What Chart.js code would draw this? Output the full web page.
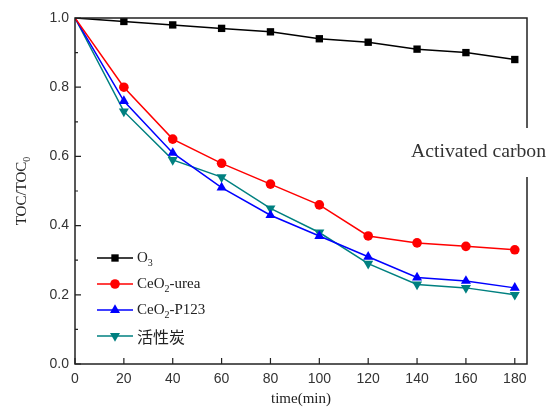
<!DOCTYPE html>
<html><head><meta charset="utf-8">
<script src="https://cdn.jsdelivr.net/npm/chart.js@4.4.1/dist/chart.umd.min.js"></script>
<style>html,body{margin:0;padding:0;background:#fff}#wrap{width:548px;height:410px}</style>
</head><body><div id="wrap"><canvas id="c" width="548" height="410"></canvas></div>
<script>
const times = [0,20,40,60,80,100,120,140,160,180];
const o3 = [1.0,0.99,0.98,0.97,0.96,0.94,0.93,0.91,0.90,0.88];
const ceo2Urea = [1.0,0.80,0.65,0.58,0.52,0.46,0.37,0.35,0.34,0.33];
const ceo2P123 = [1.0,0.76,0.61,0.51,0.43,0.37,0.31,0.25,0.24,0.22];
const activatedC = [1.0,0.73,0.59,0.54,0.45,0.38,0.29,0.23,0.22,0.20];
const seriesNames = [["O","3",""],["CeO","2","-urea"],["CeO","2","-P123"],["活性炭","",""]];
const xTicks = [0,20,40,60,80,100,120,140,160,180];
const yTicks = [0,0.2,0.4,0.6,0.8,1.0];
const yMinor = [0.1,0.3,0.5,0.7,0.9];

function pts(arr){return times.map((t,i)=>({x:t,y:arr[i]}));}
function radii(r){return times.map((t,i)=>i===0?0:r);}
const serif = '"Liberation Serif","Times New Roman",serif';
const sans = '"Liberation Sans",Arial,sans-serif';

const ds = [
 {data:pts(o3),borderColor:'#000',backgroundColor:'#000',pointStyle:'rect',pointRadius:radii(5.2),pointRotation:0},
 {data:pts(ceo2Urea),borderColor:'#ff0000',backgroundColor:'#ff0000',pointStyle:'circle',pointRadius:radii(4.8),pointRotation:0},
 {data:pts(ceo2P123),borderColor:'#0000ff',backgroundColor:'#0000ff',pointStyle:'triangle',pointRadius:radii(5.8),pointRotation:0},
 {data:pts(activatedC),borderColor:'#008080',backgroundColor:'#008080',pointStyle:'triangle',pointRadius:radii(5.8),pointRotation:180}
].map((d,i)=>Object.assign(d,{label:seriesNames[i].join(''),borderWidth:1.5,tension:0,pointBorderWidth:0,pointHoverRadius:0}));

function drawSub(ctx,x,y,parts,size,font){
  ctx.font = size+'px '+font;
  ctx.textBaseline='middle';
  ctx.fillText(parts[0],x,y);
  let w = ctx.measureText(parts[0]).width;
  if(parts[1]){
    ctx.font = Math.round(size*0.65)+'px '+font;
    ctx.fillText(parts[1],x+w,y+size*0.35);
    w += ctx.measureText(parts[1]).width;
    ctx.font = size+'px '+font;
  }
  if(parts[2]){ctx.fillText(parts[2],x+w,y);}
}

const deco = {
 id:'deco',
 afterDraw(chart){
  const ctx=chart.ctx, a=chart.chartArea, xs=chart.scales.x, ys=chart.scales.y;
  ctx.save();
  ctx.strokeStyle='#222'; ctx.lineWidth=1.5;
  ctx.strokeRect(a.left,a.top,a.right-a.left,a.bottom-a.top);
  ctx.lineWidth=1.2;
  ctx.beginPath();
  xTicks.forEach(v=>{const px=xs.getPixelForValue(v);ctx.moveTo(px,a.bottom);ctx.lineTo(px,a.bottom-6);});
  yTicks.forEach(v=>{const py=ys.getPixelForValue(v);ctx.moveTo(a.left,py);ctx.lineTo(a.left+6,py);});
  yMinor.forEach(v=>{const py=ys.getPixelForValue(v);ctx.moveTo(a.left,py);ctx.lineTo(a.left+3,py);});
  ctx.stroke();
  // legend
  const rows=[258,284,310,336];
  chart.data.datasets.forEach((d,i)=>{
    const y=rows[i];
    ctx.strokeStyle=d.borderColor; ctx.lineWidth=1.5;
    ctx.beginPath();ctx.moveTo(97,y);ctx.lineTo(133,y);ctx.stroke();
    ctx.fillStyle=d.backgroundColor;
    Chart.helpers.drawPoint(ctx,{pointStyle:d.pointStyle,rotation:d.pointRotation,radius:i===0?5.2:(i===1?4.8:5.8),borderWidth:0},115,y);
    ctx.fillStyle='#222';
    if(i===3){ctx.font='16px "Noto Sans CJK SC",sans-serif';ctx.textBaseline='middle';ctx.fillText(seriesNames[3][0],137,y+1);}
    else drawSub(ctx,137,y,seriesNames[i],15,serif);
  });
  // annotation
  ctx.font='19.7px '+serif;
  ctx.textBaseline='middle';
  const txt='Activated carbon';
  const tw=ctx.measureText(txt).width;
  ctx.fillStyle='#fff';
  ctx.fillRect(406,128,tw+10,49);
  ctx.fillStyle='#333';
  ctx.fillText(txt,411,152);
  // axis titles
  ctx.fillStyle='#222';
  ctx.font='15px '+serif;
  ctx.textAlign='center';
  ctx.fillText('time(min)',(a.left+a.right)/2,399);
  ctx.save();
  ctx.translate(22,(a.top+a.bottom)/2);
  ctx.rotate(-Math.PI/2);
  ctx.font='15px '+serif;
  const p1='TOC/TOC';
  const w1=ctx.measureText(p1).width;
  ctx.font='10px '+serif;
  const w2=ctx.measureText('0').width;
  ctx.textAlign='left';
  drawSub(ctx,-(w1+w2)/2,0,[p1,'0',''],15,serif);
  ctx.restore();
  ctx.restore();
 }
};

new Chart(document.getElementById('c'),{
 type:'line',
 data:{datasets:ds},
 options:{
  responsive:false,animation:false,
  layout:{padding:{top:18,right:21,left:0,bottom:0}},
  plugins:{legend:{display:false},tooltip:{enabled:false}},
  scales:{
   x:{type:'linear',min:0,max:185,
      afterBuildTicks(s){s.ticks=xTicks.map(v=>({value:v}));},
      afterFit(s){s.height=46;},
      grid:{display:false,drawTicks:false},border:{display:false},
      ticks:{padding:7,color:'#333',font:{family:sans,size:14},maxRotation:0,autoSkip:false}},
   y:{type:'linear',min:0,max:1.0,
      afterBuildTicks(s){s.ticks=yTicks.map(v=>({value:v}));},
      afterFit(s){s.width=75;},
      grid:{display:false,drawTicks:false},border:{display:false},
      ticks:{padding:6,color:'#333',font:{family:sans,size:14},callback:v=>v.toFixed(1)}}
  }
 },
 plugins:[deco]
});
</script></body></html>
